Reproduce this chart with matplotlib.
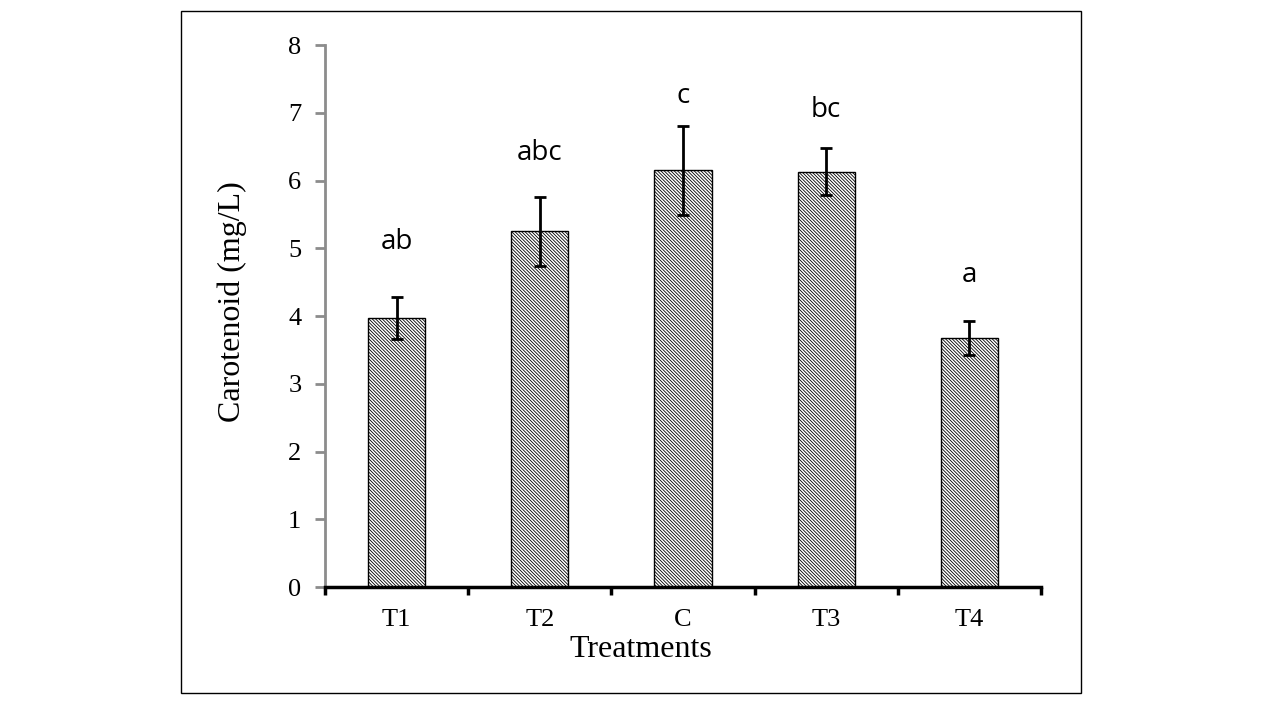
import numpy as np
import matplotlib.pyplot as plt
from matplotlib.patches import Rectangle

# values
treatments = ['T1', 'T2', 'C', 'T3', 'T4']
carotenoid = [3.97, 5.25, 6.15, 6.13, 3.67]
errors = [0.31, 0.51, 0.66, 0.35, 0.25]
letters = ['ab', 'abc', 'c', 'bc', 'a']
letter_y = [5.09, 6.41, 7.25, 7.04, 4.60]

plt.rcParams['hatch.linewidth'] = 0.6

fig = plt.figure(figsize=(12.8, 7.2), dpi=100)
# outer frame
fig.patches.append(Rectangle((0.1414, 0.0375), 0.7031, 0.9472, transform=fig.transFigure,
                             fill=False, edgecolor='black', linewidth=1.0))

ax = fig.add_axes([0.2539, 0.1847, 0.5594, 0.7528])
x = np.arange(len(treatments))
ax.bar(x, carotenoid, width=0.40, color='white', edgecolor='black', linewidth=1.0,
       hatch='\\' * 10, zorder=2)
ax.errorbar(x, carotenoid, yerr=errors, fmt='none', ecolor='black', elinewidth=2,
            capsize=4, capthick=2, zorder=3)

for xi, lab, ly in zip(x, letters, letter_y):
    ax.text(xi, ly, lab, ha='center', va='center', fontsize=20, family='Open Sans')

ax.set_xlim(-0.5, len(treatments) - 0.5)
ax.set_ylim(0, 8)

for s in ['top', 'right']:
    ax.spines[s].set_visible(False)
ax.spines['left'].set_color('#8c8c8c')
ax.spines['left'].set_linewidth(2)
ax.spines['bottom'].set_color('black')
ax.spines['bottom'].set_linewidth(2.5)
ax.spines['bottom'].set_zorder(4)

ax.set_yticks(range(0, 9))
ax.tick_params(axis='y', direction='out', length=7, width=2, color='#8c8c8c',
               labelsize=19, pad=10)
ax.set_xticks(np.arange(-0.5, len(treatments), 1.0))
ax.set_xticklabels([])
ax.tick_params(axis='x', which='major', direction='out', length=6, width=2.5, color='black')
ax.set_xticks(x, minor=True)
ax.set_xticklabels(treatments, minor=True)
ax.tick_params(axis='x', which='minor', length=0, labelsize=19, pad=16)

for lbl in ax.get_xticklabels(minor=True) + ax.get_yticklabels():
    lbl.set_family('Liberation Serif')

ax.set_xlabel('Treatments', family='Liberation Serif', fontsize=23, va='center')
ax.xaxis.set_label_coords(0.441, -0.115)
ax.set_ylabel('Carotenoid (mg/L)', family='Liberation Serif', fontsize=23, va='center')
ax.yaxis.set_label_coords(-0.129, 0.527)

fig.savefig('out.png', dpi=100)
